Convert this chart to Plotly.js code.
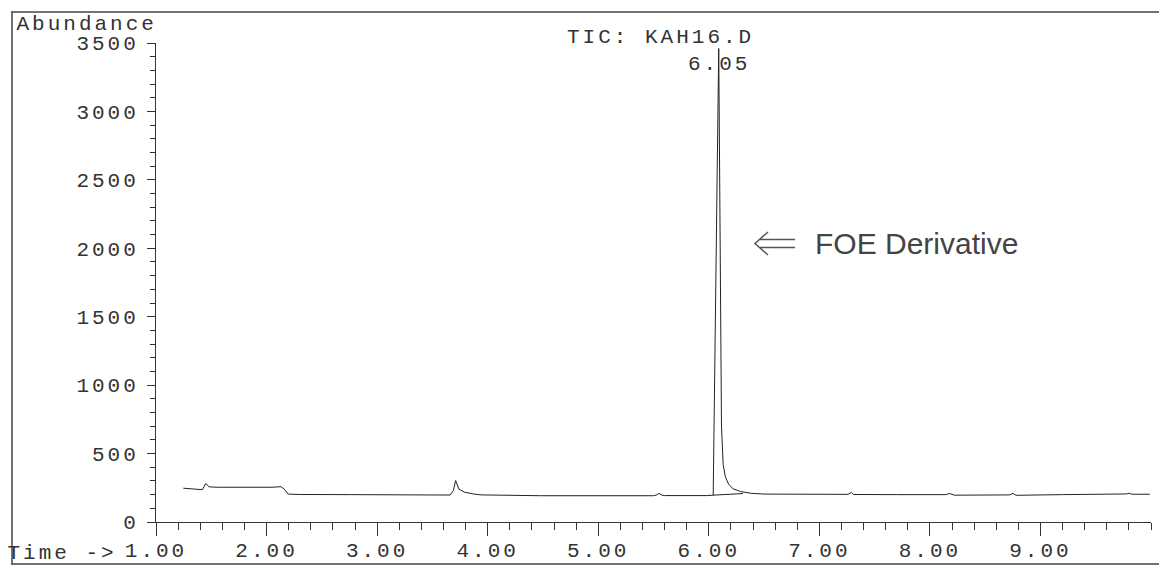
<!DOCTYPE html>
<html>
<head>
<meta charset="utf-8">
<script src="https://cdn.plot.ly/plotly-3.0.1.min.js"></script>
<style>
  html, body { margin: 0; padding: 0; background: #fff; }
  #chart { width: 1159px; height: 575px; }
  .xtick text, .ytick text { letter-spacing: 3px; }
  .annotation text { letter-spacing: 3px; }
  .annotation[data-index="4"] text { letter-spacing: 0px; }
</style>
</head>
<body>
<div id="chart"></div>
<script>
// ---- Data ----
const TIME = [1.247, 1.30, 1.38, 1.42, 1.45, 1.48, 1.55, 1.70, 1.90, 2.05,
              2.13, 2.16, 2.195, 2.30, 2.76, 3.20, 3.66, 3.69, 3.71, 3.74,
              3.79, 3.87, 3.94, 4.48, 5.08, 5.50, 5.53, 5.55, 5.57, 5.60,
              5.98, 6.04, 6.09, 6.10, 6.115, 6.13, 6.15, 6.18, 6.22, 6.29,
              6.38, 6.50, 6.90, 7.26, 7.29, 7.31, 7.70, 8.14, 8.18, 8.22,
              8.50, 8.72, 8.75, 8.78, 9.20, 9.60, 9.78, 9.80, 9.83, 9.99];
const ABUNDANCE = [247, 244, 238, 236, 281, 257, 254, 253, 252, 254,
                   258, 240, 204, 201, 200, 198, 197, 230, 303, 240,
                   218, 205, 198, 192, 192, 192, 198, 210, 198, 193,
                   193, 196, 3460, 2000, 700, 420, 330, 275, 242, 222,
                   210, 204, 203, 202, 216, 201, 200, 200, 208, 196,
                   197, 198, 209, 195, 200, 203, 205, 210, 203, 203];
// integration baseline drawn under the main peak
const BASE_TIME = [6.04, 6.31];
const BASE_ABUND = [196, 208];

const X_TICKS = [1, 2, 3, 4, 5, 6, 7, 8, 9];
const X_TICK_TEXT = ['1.00', '2.00', '3.00', '4.00', '5.00', '6.00', '7.00', '8.00', '9.00'];
const Y_TICKS = [0, 500, 1000, 1500, 2000, 2500, 3000, 3500];

const TITLE_TEXT = 'TIC: KAH16.D';
const PEAK_LABEL = '6.05';
const Y_LABEL = 'Abundance';
const X_LABEL = 'Time ->';
const NOTE_TEXT = 'FOE Derivative';

// ---- Layout geometry ----
const W = 1159, H = 575, ML = 156, MR = 8, MT = 43, MB = 53;
const PW = W - ML - MR, PH = H - MT - MB;
const px = p => (p - ML) / PW;
const py = p => (H - MB - p) / PH;

const mono = '"Courier New", Courier, "Nimbus Mono PS", "Nimbus Mono L", FreeMono, "Liberation Mono", monospace';
const ink = '#333';
const FS = 21;

const traces = [
  { x: TIME, y: ABUNDANCE, type: 'scatter', mode: 'lines',
    line: { color: '#222', width: 1 }, hoverinfo: 'x+y' },
  { x: BASE_TIME, y: BASE_ABUND, type: 'scatter', mode: 'lines',
    line: { color: '#222', width: 1 }, hoverinfo: 'skip' }
];

const frameLine = { color: '#444', width: 1.5 };
const arrowPath = 'M ' + px(768) + ',' + py(232) + ' L ' + px(755) + ',' + py(243.5) + ' L ' + px(768) + ',' + py(255) +
                  ' M ' + px(759) + ',' + py(239.5) + ' L ' + px(795) + ',' + py(239.5) +
                  ' M ' + px(759) + ',' + py(247.5) + ' L ' + px(795) + ',' + py(247.5);

const layout = {
  width: W, height: H,
  margin: { l: ML, r: MR, t: MT, b: MB, pad: 0 },
  paper_bgcolor: '#fff', plot_bgcolor: '#fff',
  showlegend: false,
  font: { family: mono, size: FS, color: ink },
  xaxis: {
    range: [1, 10], showgrid: false, zeroline: false,
    showline: true, linecolor: ink, linewidth: 1,
    tickmode: 'array', tickvals: X_TICKS, ticktext: X_TICK_TEXT,
    ticks: 'outside', ticklen: 13, tickwidth: 1, tickcolor: ink,
    ticklabelstandoff: -4,
    minor: { tickmode: 'linear', tick0: 1, dtick: 0.2, ticks: 'outside', ticklen: 7, tickwidth: 1, tickcolor: ink },
    tickfont: { family: mono, size: FS, color: ink }
  },
  yaxis: {
    range: [0, 3500], showgrid: false, zeroline: false,
    showline: true, linecolor: ink, linewidth: 1,
    tickmode: 'array', tickvals: Y_TICKS,
    ticks: 'outside', ticklen: 8, tickwidth: 1, tickcolor: ink,
    ticklabelstandoff: 4,
    minor: { tickmode: 'linear', tick0: 0, dtick: 100, ticks: 'outside', ticklen: 5, tickwidth: 1, tickcolor: ink },
    tickfont: { family: mono, size: FS, color: ink }
  },
  annotations: [
    { text: Y_LABEL, xref: 'paper', yref: 'paper', x: px(86), y: py(24),
      xanchor: 'center', yanchor: 'middle', showarrow: false,
      font: { family: mono, size: FS, color: ink } },
    { text: TITLE_TEXT, xref: 'paper', yref: 'paper', x: px(660), y: py(37),
      xanchor: 'center', yanchor: 'middle', showarrow: false,
      font: { family: mono, size: FS, color: ink } },
    { text: PEAK_LABEL, xref: 'paper', yref: 'paper', x: px(719), y: py(65),
      xanchor: 'center', yanchor: 'middle', showarrow: false,
      font: { family: mono, size: FS, color: ink } },
    { text: X_LABEL, xref: 'paper', yref: 'paper', x: px(62), y: py(553),
      xanchor: 'center', yanchor: 'middle', showarrow: false,
      font: { family: mono, size: FS, color: ink } },
    { text: NOTE_TEXT, xref: 'paper', yref: 'paper', x: px(813), y: py(243),
      xanchor: 'left', yanchor: 'middle', showarrow: false,
      font: { family: 'Liberation Sans, Arial, sans-serif', size: 30, color: '#444' } }
  ],
  shapes: [
    { type: 'line', xref: 'paper', yref: 'paper', x0: px(12), x1: px(12), y0: py(11), y1: py(565), line: frameLine },
    { type: 'line', xref: 'paper', yref: 'paper', x0: px(12), x1: px(1165), y0: py(12), y1: py(12), line: frameLine },
    { type: 'line', xref: 'paper', yref: 'paper', x0: px(12), x1: px(1165), y0: py(564), y1: py(564), line: frameLine },
    { type: 'path', xref: 'paper', yref: 'paper', path: arrowPath, line: { color: '#555', width: 1.5 } }
  ]
};

Plotly.newPlot('chart', traces, layout, { staticPlot: true, displayModeBar: false });
</script>
</body>
</html>
